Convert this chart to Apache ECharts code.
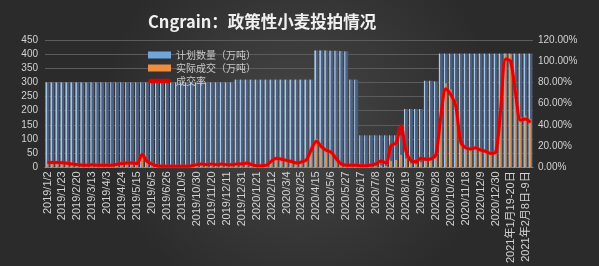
<!DOCTYPE html>
<html>
<head>
<meta charset="utf-8">
<script src="https://cdn.jsdelivr.net/npm/echarts@6/dist/echarts.min.js"></script>
<style>html,body{margin:0;padding:0;background:#333;}#c{width:599px;height:266px;}</style>
</head>
<body>
<div id="c"></div>
<script>
const categories = [
"2019/1/2","2019/1/9","2019/1/16","2019/1/23","2019/1/30","2019/2/13","2019/2/20","2019/2/27","2019/3/6","2019/3/13",
"2019/3/20","2019/3/27","2019/4/3","2019/4/10","2019/4/17","2019/4/24","2019/5/1","2019/5/8","2019/5/15","2019/5/22",
"2019/5/29","2019/6/5","2019/6/12","2019/6/19","2019/6/26","2019/7/3","2019/9/25","2019/10/9","2019/10/16","2019/10/23",
"2019/10/30","2019/11/6","2019/11/13","2019/11/20","2019/11/27","2019/12/4","2019/12/11","2019/12/18","2019/12/25","2019/12/31",
"2020/1/8","2020/1/14","2020/1/21","2020/1/22","2020/2/5","2020/2/12","2020/2/19","2020/2/26","2020/3/4","2020/3/11",
"2020/3/18","2020/3/25","2020/4/1","2020/4/8","2020/4/15","2020/4/22","2020/4/29","2020/5/6","2020/5/13","2020/5/20",
"2020/5/27","2020/6/3","2020/6/10","2020/6/17","2020/6/24","2020/7/1","2020/7/8","2020/7/15","2020/7/22","2020/7/29",
"2020/8/5","2020/8/12","2020/8/19","2020/8/26","2020/9/2","2020/9/9","2020/9/16","2020/9/23","2020/9/28","2020/10/14",
"2020/10/21","2020/10/28","2020/11/4","2020/11/11","2020/11/18","2020/11/25","2020/12/2","2020/12/9","2020/12/16","2020/12/23",
"2020/12/30","2021年1月6日","2021年1月13日","2021年1月19-20日","2021年1月26-27日","2021年2月2-3日","2021年2月8日-9日","2021年2月23-24日"
];
// 计划数量（万吨）
const planned = [
300,300,300,300,300,300,300,300,300,300,
300,300,300,300,300,300,300,300,300,300,
300,300,300,300,300,300,300,300,300,300,
300,300,300,300,300,300,300,300,310,310,
310,310,310,310,310,310,310,310,310,310,
310,310,310,310,413,413,413,412,412,411,
410,310,310,113,113,113,113,113,113,113,
113,113,206,206,206,206,306,306,304,402,
402,402,402,402,402,402,402,402,402,402,
402,402,402,402,402,402,402,402
];
// 实际成交（万吨）
const actual = [
14,14,13,13,11,9,8,6,6,7,
6,5,5,6,8,10,12,12,10,36,
16,9,5,3,3,3,3,3,3,5,
8,9,8,9,8,9,8,8,9,9,
12,8,5,5,6,19,26,23,20,17,
12,16,22,53,101,80,66,58,33,12,
8,6,6,2,2,2,4,7,5,23,
26,44,31,13,11,18,23,25,37,192,
297,275,231,95,73,69,73,65,60,52,
56,217,402,401,279,178,183,170
];
// 成交率（%）
const rate = [
4.6,4.6,4.5,4.3,3.8,3,2.5,2,2,2.3,
2,1.8,1.8,2,2.8,3.5,4,4,3.5,12,
5.5,3,1.5,1,1,1,1,1,1,1.5,
2.5,3,2.5,3,2.5,3,2.5,2.5,3,3,
4,2.5,1.5,1.5,2,6,8.5,7.5,6.5,5.5,
4,5,7,17,24.5,19.5,16,14,8,3,
2,2,2,1.5,1.5,2,3.5,6,4,20.5,
23,39,15,6.3,5.2,8.5,7.5,8,12,48,
74,68.5,57.5,23.7,18.3,17.2,18.3,16.1,15,13,
14,54,102,100,69.5,44.5,45.6,42.3
];
const leftTicks = {min:0, max:450, interval:50};
const rightTicks = {min:0, max:120, interval:20};
const seriesNames = ["计划数量（万吨）","实际成交（万吨）","成交率"];

const chart = echarts.init(document.getElementById('c'), null, {renderer:'canvas'});
const labelColor = '#d2d2d2';
chart.setOption({
  animation:false,
  backgroundColor: new echarts.graphic.RadialGradient(0.5,0.45,0.75,[
    {offset:0,color:'#464646'},{offset:1,color:'#2b2b2b'}]),
  title:{text:'Cngrain：政策性小麦投拍情况', left:143, top:8,
    textStyle:{color:'#f0f0f0', fontSize:16.5, fontWeight:'bold', fontFamily:'Noto Sans CJK SC'}},
  legend:{orient:'vertical', left:143, top:45, itemWidth:23, itemHeight:7, itemGap:3,
    data:[{name:seriesNames[0], icon:'rect', itemStyle:{color:'#6fa6dc'}},
          {name:seriesNames[1], icon:'rect', itemStyle:{color:'#ee8d3e'}},
          {name:seriesNames[2], icon:'path://M3,0 L20,0 Q23,2 20,4 L3,4 Q0,2 3,0 Z', itemStyle:{color:'#e00000'}}],
    textStyle:{color:'#c8c8c8', fontSize:10, fontFamily:'Noto Sans CJK SC'}},
  grid:{left:45, right:66, top:40, bottom:43},
  xAxis:[{type:'category', data:categories, boundaryGap:true,
      axisLine:{lineStyle:{color:'#8a8a8a'}},
      axisTick:{interval:0, length:3, lineStyle:{color:'#8a8a8a'}},
      axisLabel:{interval:2, rotate:90, color:labelColor, fontSize:11, margin:4,
        fontFamily:'Liberation Sans, Noto Sans CJK SC'}},
    {type:'category', data:categories, show:false}],
  yAxis:[{type:'value', min:leftTicks.min, max:leftTicks.max, interval:leftTicks.interval,
      axisLine:{show:false}, axisTick:{show:false},
      splitLine:{lineStyle:{color:'#5c5c5c', width:1}},
      axisLabel:{color:labelColor, fontSize:10, margin:7, fontFamily:'Liberation Sans'}},
    {type:'value', min:rightTicks.min, max:rightTicks.max, interval:rightTicks.interval,
      axisLine:{show:false}, axisTick:{show:false}, splitLine:{show:false},
      axisLabel:{color:labelColor, fontSize:10, margin:5, fontFamily:'Liberation Sans',
        formatter:v=>v.toFixed(2)+'%'}}],
  series:[
    {name:seriesNames[0], type:'bar', xAxisIndex:0, yAxisIndex:0, data:planned, barWidth:4,
      itemStyle:{color:new echarts.graphic.LinearGradient(0,0,1,0,[
        {offset:0,color:'#b4d2f0'},{offset:0.28,color:'#a4c4e8'},{offset:0.32,color:'#52678a'},{offset:1,color:'#47586f'}])}},
    {name:seriesNames[1], type:'bar', xAxisIndex:1, yAxisIndex:0, data:actual, barWidth:2,
      itemStyle:{color:'#cf8f55'}},
    {name:seriesNames[2], type:'line', xAxisIndex:0, yAxisIndex:1, data:rate, symbol:'none',
      smooth:0.3, z:5,
      itemStyle:{color:'#e60000'},
      lineStyle:{color:'#e60000', width:3, shadowBlur:3, shadowColor:'rgba(255,40,40,0.6)'}}
  ]
});
</script>
</body>
</html>
